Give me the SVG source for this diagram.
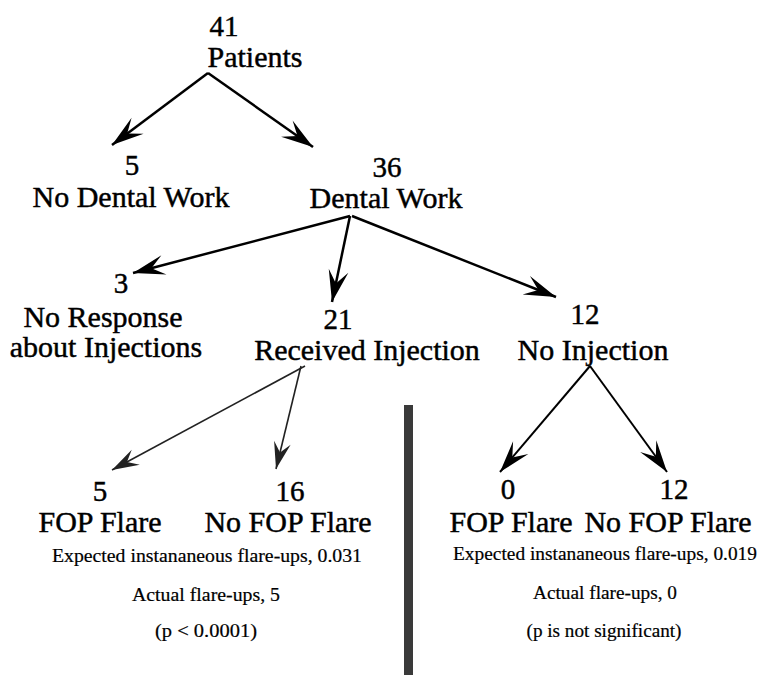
<svg xmlns="http://www.w3.org/2000/svg" width="760" height="675" viewBox="0 0 760 675">
<style>
  text { font-family: "Liberation Serif", "Times New Roman", serif; fill: #000; text-anchor: middle; }
  .big { font-size: 30px; stroke: #000; stroke-width: 0.45; }
  .num { font-size: 29px; stroke: #000; stroke-width: 0.45; }
  .small { font-size: 18px; stroke: #000; stroke-width: 0.2; }
  .edge { stroke: #000; stroke-width: 2.5; fill: none; marker-end: url(#arrow); }
  .thin { stroke: #222; stroke-width: 1.6; fill: none; marker-end: url(#arrowThin); }
  .mid { stroke: #000; stroke-width: 2; fill: none; marker-end: url(#arrow); }
</style>
<defs>
  <marker id="arrow" viewBox="-34 -12 36 24" refX="0" refY="0" markerWidth="36" markerHeight="24" markerUnits="userSpaceOnUse" orient="auto">
    <path d="M0,0 L-32,-10 L-19,0 L-32,10 Z" fill="#000"/>
  </marker>
  <marker id="arrowThin" viewBox="-34 -12 36 24" refX="0" refY="0" markerWidth="36" markerHeight="24" markerUnits="userSpaceOnUse" orient="auto">
    <path d="M0,0 L-27,-8.5 L-17,0 L-27,8.5 Z" fill="#222"/>
  </marker>
</defs>

<g id="connectors">
  <line class="edge" x1="208" y1="73" x2="112" y2="145"/>
  <line class="edge" x1="208" y1="73" x2="313" y2="147"/>
  <line class="edge" x1="350" y1="216" x2="133" y2="273"/>
  <line class="edge" x1="350" y1="216" x2="332" y2="302"/>
  <line class="edge" x1="352" y1="216" x2="556" y2="297"/>
  <line class="thin" x1="305" y1="366" x2="112" y2="470"/>
  <line class="thin" x1="301" y1="366" x2="276" y2="469"/>
  <line class="mid" x1="590" y1="366" x2="500" y2="472"/>
  <line class="mid" x1="590" y1="366" x2="667" y2="472"/>
</g>

<rect id="divider" x="404" y="405" width="9" height="270" fill="#3a3a3a"/>

<g id="patients">
  <text class="num" x="224" y="36">41</text>
  <text class="big" x="255" y="67">Patients</text>
</g>
<g id="no-dental-work">
  <text class="num" x="132" y="175">5</text>
  <text class="big" x="131" y="207">No Dental Work</text>
</g>
<g id="dental-work">
  <text class="num" x="387" y="177">36</text>
  <text class="big" x="386" y="208">Dental Work</text>
</g>
<g id="no-response">
  <text class="num" x="121" y="293">3</text>
  <text class="big" x="103" y="327">No Response</text>
  <text class="big" x="106" y="357">about Injections</text>
</g>
<g id="received-injection">
  <text class="num" x="338" y="329">21</text>
  <text class="big" x="367" y="360">Received Injection</text>
</g>
<g id="no-injection">
  <text class="num" x="585" y="324">12</text>
  <text class="big" x="593" y="360">No Injection</text>
</g>
<g id="ri-flare">
  <text class="num" x="100" y="501">5</text>
  <text class="big" x="100" y="532">FOP Flare</text>
</g>
<g id="ri-no-flare">
  <text class="num" x="290" y="501">16</text>
  <text class="big" x="288" y="532">No FOP Flare</text>
</g>
<g id="ni-flare">
  <text class="num" x="508" y="499">0</text>
  <text class="big" x="511" y="532">FOP Flare</text>
</g>
<g id="ni-no-flare">
  <text class="num" x="674" y="499">12</text>
  <text class="big" x="668" y="532">No FOP Flare</text>
</g>
<g id="ri-stats">
  <text class="small" x="207" y="562" textLength="310" lengthAdjust="spacingAndGlyphs">Expected instananeous flare-ups, 0.031</text>
  <text class="small" x="206" y="601" textLength="148" lengthAdjust="spacingAndGlyphs">Actual flare-ups, 5</text>
  <text class="small" x="206" y="637" textLength="102" lengthAdjust="spacingAndGlyphs">(p &lt; 0.0001)</text>
</g>
<g id="ni-stats">
  <text class="small" x="605" y="560" textLength="304" lengthAdjust="spacingAndGlyphs">Expected instananeous flare-ups, 0.019</text>
  <text class="small" x="605" y="599" textLength="144" lengthAdjust="spacingAndGlyphs">Actual flare-ups, 0</text>
  <text class="small" x="604" y="637" textLength="155" lengthAdjust="spacingAndGlyphs">(p is not significant)</text>
</g>
</svg>
